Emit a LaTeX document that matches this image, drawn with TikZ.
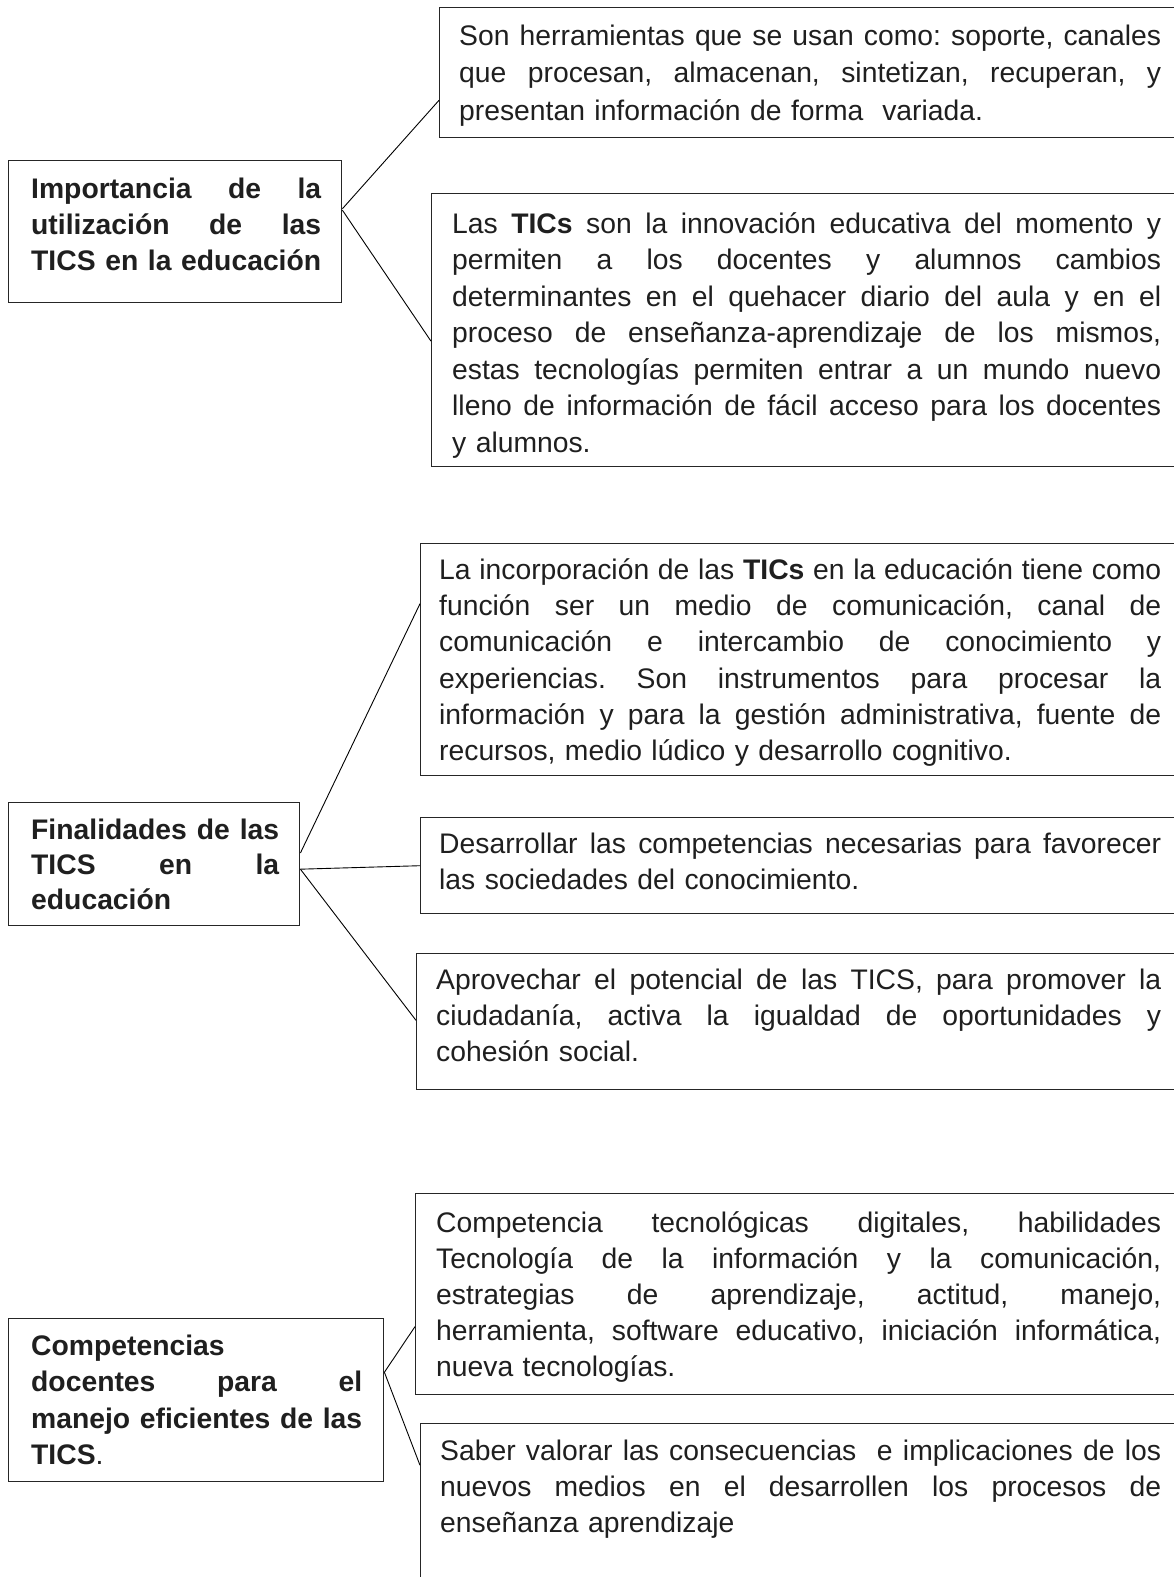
\documentclass[tikz,border=0pt]{standalone}
\usepackage{fontspec}
\setmainfont{Liberation Sans}
\usetikzlibrary{calc}
\setlength\parindent{0pt}
\newcommand\jline[2]{\leavevmode\hbox to #1{\spaceskip=0.278em plus 1fil minus 0.12em\relax #2}\\}
\tikzset{
  box/.style={draw=black!85, line width=1.4pt, inner sep=0pt, anchor=north west},
  txt/.style={inner sep=0pt, anchor=north west, align=left, text=black!88},
  conn/.style={draw=black, line width=0.9pt},
}
\newcommand\fs[1]{\fontsize{28.3}{#1}\selectfont\hyphenpenalty=10000 \frenchspacing}
\begin{document}
\begin{tikzpicture}[x=1pt,y=-1pt]
\fill[white] (0,0) rectangle (1174,1577);
\useasboundingbox (0,0) rectangle (1174,1577);
\clip (0,0) rectangle (1174,1577);

% ---------- section 1 ----------
\node[box, minimum width=333pt, minimum height=142pt] (A) at (8,160) {};
\node[box, minimum width=741pt, minimum height=130pt] (B1) at (439,7) {};
\node[box, minimum width=749pt, minimum height=273pt] (B2) at (431,193) {};

\node[txt, text width=300pt, font=\fs{36}\bfseries] (At) at (31,{198-0.7*36})
  {\jline{290pt}{\strut Importancia de la}\jline{290pt}{utilización de las}\jline{290pt}{TICS en la educación}};
\node[txt, text width=720pt, font=\fs{37.5}] (B1t) at (459,{45-0.7*37.5})
  {\jline{702pt}{\strut Son herramientas que se usan como: soporte, canales}%
   \jline{702pt}{que procesan, almacenan, sintetizan, recuperan, y}%
   presentan información de forma\ \ variada.};
\node[txt, text width=720pt, font=\fs{36.5}] (B2t) at (452,{233-0.7*36.5})
  {\jline{709pt}{\strut Las \textbf{TICs} son la innovación educativa del momento y}%
   \jline{709pt}{permiten a los docentes y alumnos cambios}%
   \jline{709pt}{determinantes en el quehacer diario del aula y en el}%
   \jline{709pt}{proceso de enseñanza-aprendizaje de los mismos,}%
   \jline{709pt}{estas tecnologías permiten entrar a un mundo nuevo}%
   \jline{709pt}{lleno de información de fácil acceso para los docentes}%
   y alumnos.};

\draw[conn] ($(A.north east)!0.34!(A.south east)$) -- ($(B1.north west)!0.71!(B1.south west)$);
\draw[conn] ($(A.north east)!0.35!(A.south east)$) -- ($(B2.north west)!0.54!(B2.south west)$);

% ---------- section 2 ----------
\node[box, minimum width=291pt, minimum height=123pt] (C) at (8,802) {};
\node[box, minimum width=760pt, minimum height=232pt] (D1) at (420,543) {};
\node[box, minimum width=760pt, minimum height=96pt] (D2) at (420,817) {};
\node[box, minimum width=764pt, minimum height=136pt] (D3) at (416,953) {};

\node[txt, text width=260pt, font=\fs{35}\bfseries] (Ct) at (31,{839-0.7*35})
  {\jline{248pt}{\strut Finalidades de las}\jline{248pt}{TICS en la}educación};
\node[txt, text width=730pt, font=\fs{36.3}] (D1t) at (439,{579-0.7*36.3})
  {\jline{722pt}{\strut La incorporación de las \textbf{TICs} en la educación tiene como}%
   \jline{722pt}{función ser un medio de comunicación, canal de}%
   \jline{722pt}{comunicación e intercambio de conocimiento y}%
   \jline{722pt}{experiencias. Son instrumentos para procesar la}%
   \jline{722pt}{información y para la gestión administrativa, fuente de}%
   recursos, medio lúdico y desarrollo cognitivo.};
\node[txt, text width=730pt, font=\fs{36}] (D2t) at (439,{853-0.7*36})
  {\jline{722pt}{\strut Desarrollar las competencias necesarias para favorecer}%
   las sociedades del conocimiento.};
\node[txt, text width=730pt, font=\fs{36}] (D3t) at (436,{989-0.7*36})
  {\jline{725pt}{\strut Aprovechar el potencial de las TICS, para promover la}%
   \jline{725pt}{ciudadanía, activa la igualdad de oportunidades y}%
   cohesión social.};

\draw[conn] ($(C.north east)!0.41!(C.south east)$) -- ($(D1.north west)!0.26!(D1.south west)$);
\draw[conn] ($(C.north east)!0.54!(C.south east)$) -- ($(D2.north west)!0.50!(D2.south west)$);
\draw[conn] ($(C.north east)!0.54!(C.south east)$) -- ($(D3.north west)!0.49!(D3.south west)$);

% ---------- section 3 ----------
\node[box, minimum width=375pt, minimum height=163pt] (E) at (8,1318) {};
\node[box, minimum width=765pt, minimum height=201pt] (F1) at (415,1193) {};
\node[box, minimum width=760pt, minimum height=177pt] (F2) at (420,1423) {};

\node[txt, text width=340pt, font=\fs{36.5}\bfseries] (Et) at (31,{1355-0.7*36.5})
  {\strut Competencias\\\jline{331pt}{docentes para el}\jline{331pt}{manejo eficientes de las}TICS\textmd{.}};
\node[txt, text width=730pt, font=\fs{36}] (F1t) at (436,{1232-0.7*36})
  {\jline{725pt}{\strut Competencia tecnológicas digitales, habilidades}%
   \jline{725pt}{Tecnología de la información y la comunicación,}%
   \jline{725pt}{estrategias de aprendizaje, actitud, manejo,}%
   \jline{725pt}{herramienta, software educativo, iniciación informática,}%
   nueva tecnologías.};
\node[txt, text width=730pt, font=\fs{36}] (F2t) at (440,{1460-0.7*36})
  {\jline{721pt}{\strut Saber valorar las consecuencias\ \ e implicaciones de los}%
   \jline{721pt}{nuevos medios en el desarrollen los procesos de}%
   enseñanza aprendizaje};

\draw[conn] ($(E.north east)!0.33!(E.south east)$) -- ($(F1.north west)!0.66!(F1.south west)$);
\draw[conn] ($(E.north east)!0.33!(E.south east)$) -- ($(F2.north west)!0.237!(F2.south west)$);
\end{tikzpicture}
\end{document}
